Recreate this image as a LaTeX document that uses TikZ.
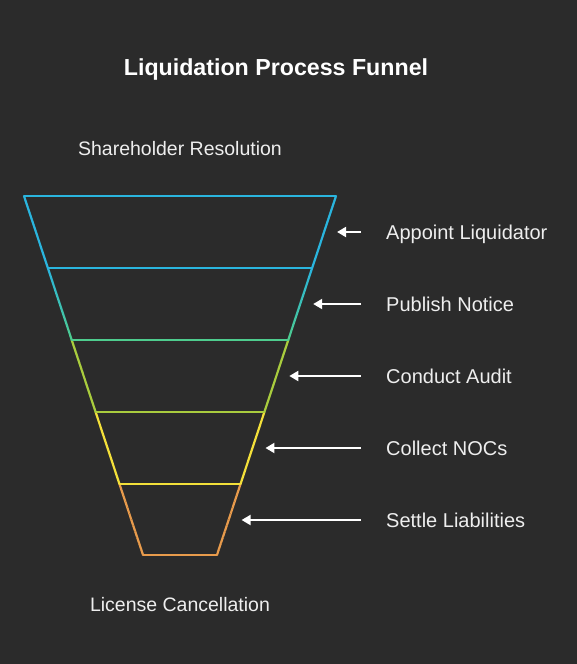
\documentclass[tikz,border=0pt]{standalone}
\usepackage{fontspec}
\setmainfont{Liberation Sans}
\usetikzlibrary{arrows.meta}
\definecolor{bg}{HTML}{2B2B2B}
\definecolor{txt}{HTML}{EEEEEE}
\definecolor{cA}{HTML}{2AB5DE}
\definecolor{cB}{HTML}{4ECC8E}
\definecolor{cC}{HTML}{A9CC3E}
\definecolor{cD}{HTML}{F3E03A}
\definecolor{cE}{HTML}{E89B4C}
\tikzset{
  lbl/.style={anchor=base west, text=txt, font=\fontsize{20}{24}\selectfont, inner sep=0pt},
  ctr/.style={anchor=base, text=txt, font=\fontsize{19.5}{23}\selectfont, inner sep=0pt},
  ttl/.style={anchor=base, text=white, font=\bfseries\fontsize{23.2}{28}\selectfont, inner sep=0pt},
  pointer/.style={draw=white, line width=2pt, -{Triangle[length=9pt,width=10pt]}},
  fline/.style={line width=2.2pt, line cap=butt}
}
\begin{document}
\begin{tikzpicture}[x=1pt,y=-1pt]
\useasboundingbox (0,0) rectangle (577,664);
\fill[bg] (0,0) rectangle (577,664);
% funnel levels: y and half-width
\def\cx{180}
\def\slope{0.3315}
\foreach \i/\ya/\yb/\ca/\cb in {1/196/268/cA/cA,2/268/340/cA/cB,3/340/412/cC/cC,4/412/484/cD/cD,5/484/555/cE/cE}{
  \foreach \k in {0,...,11}{
    \pgfmathsetmacro\ta{\ya+(\yb-\ya)*\k/12}
    \pgfmathsetmacro\tb{\ya+(\yb-\ya)*(\k+1)/12}
    \pgfmathsetmacro\wa{156-(\ta-196)*\slope}
    \pgfmathsetmacro\wb{156-(\tb-196)*\slope}
    \pgfmathsetmacro\mix{100-100*(\k+0.5)/12}
    \draw[fline, color=\ca!\mix!\cb] (\cx-\wa,\ta) -- (\cx-\wb,\tb);
    \draw[fline, color=\ca!\mix!\cb] (\cx+\wa,\ta) -- (\cx+\wb,\tb);
  }
}
\foreach \y/\c in {196/cA,268/cA,340/cB,412/cC,484/cD,555/cE}{
  \pgfmathsetmacro\w{156-(\y-196)*\slope}
  \draw[fline, line cap=round, color=\c] (\cx-\w,\y) -- (\cx+\w,\y);
}
\node[ttl] (title) at (276,75) {Liquidation Process Funnel};
\node[ctr] (start) at (180,155) {Shareholder Resolution};
\node[ctr] (end) at (180,611.5) {License Cancellation};
\foreach \n/\y/\t in {a/232/Appoint Liquidator,b/304/Publish Notice,c/376/Conduct Audit,d/448/Collect NOCs,e/520/Settle Liabilities}{
  \pgfmathsetmacro\tip{\cx+156-(\y-196)*\slope+13}
  \node[lbl] (\n) at (386,\y+7) {\t};
  \coordinate (\n s) at (361,\y);
  \coordinate (\n t) at (\tip,\y);
  \draw[pointer] (\n s) -- (\n t);
}
\end{tikzpicture}
\end{document}
